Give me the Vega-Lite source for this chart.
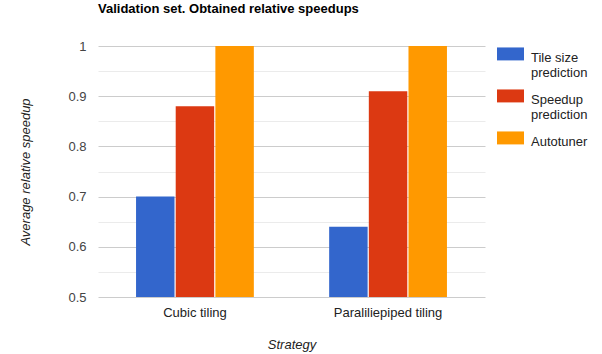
{
  "$schema": "https://vega.github.io/schema/vega-lite/v6.json",
  "width": 387,
  "height": 251,
  "autosize": "none",
  "padding": {"left": 98, "top": 46, "right": 117, "bottom": 57},
  "background": "white",
  "title": {
    "text": "Validation set. Obtained relative speedups",
    "anchor": "start",
    "frame": "group",
    "font": "Liberation Sans",
    "fontSize": 13,
    "fontWeight": "bold",
    "color": "#000000",
    "offset": 22
  },
  "config": {
    "view": {"stroke": null},
    "font": "Liberation Sans"
  },
  "data": {
    "values": [
      {"strategy": "Cubic tiling", "method": "Tile size prediction", "value": 0.70},
      {"strategy": "Cubic tiling", "method": "Speedup prediction", "value": 0.88},
      {"strategy": "Cubic tiling", "method": "Autotuner", "value": 1.0},
      {"strategy": "Paraliliepiped tiling", "method": "Tile size prediction", "value": 0.64},
      {"strategy": "Paraliliepiped tiling", "method": "Speedup prediction", "value": 0.91},
      {"strategy": "Paraliliepiped tiling", "method": "Autotuner", "value": 1.0}
    ]
  },
  "mark": {"type": "bar", "clip": true},
  "encoding": {
    "x": {
      "field": "strategy",
      "type": "nominal",
      "sort": null,
      "scale": {"paddingInner": 0.39, "paddingOuter": 0.197},
      "axis": {
        "title": "Strategy",
        "titleFontStyle": "italic",
        "titleFontWeight": "normal",
        "titleFontSize": 13,
        "titleColor": "#222222",
        "titlePadding": 19,
        "labelAngle": 0,
        "labelFontSize": 13,
        "labelColor": "#222222",
        "labelPadding": 9,
        "domain": false,
        "ticks": false
      }
    },
    "xOffset": {
      "field": "method",
      "type": "nominal",
      "sort": ["Tile size prediction", "Speedup prediction", "Autotuner"],
      "scale": {"paddingInner": 0.03}
    },
    "y": {
      "field": "value",
      "type": "quantitative",
      "scale": {"domain": [0.5, 1.0], "zero": false, "nice": false},
      "axis": {
        "title": "Average relative speedup",
        "titleFontStyle": "italic",
        "titleFontWeight": "normal",
        "titleFontSize": 13,
        "titleColor": "#222222",
        "titlePadding": 35,
        "values": [0.5, 0.55, 0.6, 0.65, 0.7, 0.75, 0.8, 0.85, 0.9, 0.95, 1.0],
        "format": ".2~f",
        "labelExpr": "abs(datum.value*10 - round(datum.value*10)) > 0.01 ? '' : datum.label",
        "labelFontSize": 13,
        "labelColor": "#444444",
        "labelPadding": 12,
        "domain": false,
        "ticks": false,
        "grid": true,
        "gridColor": {
          "condition": {"test": "abs(datum.value*10 - round(datum.value*10)) > 0.01", "value": "#ebebeb"},
          "value": "#cccccc"
        }
      }
    },
    "color": {
      "field": "method",
      "type": "nominal",
      "sort": ["Tile size prediction", "Speedup prediction", "Autotuner"],
      "scale": {
        "domain": ["Tile size prediction", "Speedup prediction", "Autotuner"],
        "range": ["#3366cc", "#dc3912", "#ff9900"]
      },
      "legend": {
        "title": null,
        "orient": "none",
        "legendX": 399,
        "legendY": -8,
        "symbolType": "M-1,-0.3H1V0.66H-1Z",
        "symbolSize": 729,
        "symbolStrokeWidth": 0,
        "labelFontSize": 13,
        "labelColor": "#222222",
        "labelBaseline": "top",
        "labelExpr": "datum.label == 'Autotuner' ? 'Autotuner' : [split(datum.label, ' prediction')[0], 'prediction']",
        "rowPadding": -8,
        "labelOffset": 7
      }
    }
  }
}
